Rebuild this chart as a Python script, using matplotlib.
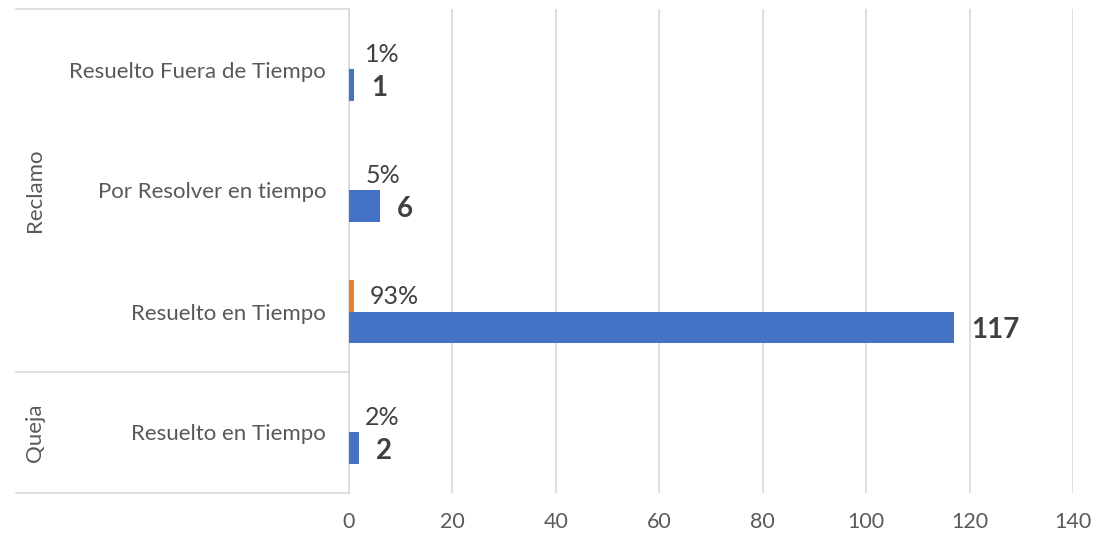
import numpy as np
import matplotlib.pyplot as plt
import matplotlib.transforms as mtransforms

plt.rcParams['font.family'] = ['Lato', 'DejaVu Sans']

# data (top to bottom as shown)
groups = ['Reclamo', 'Reclamo', 'Reclamo', 'Queja']
categories = ['Resuelto Fuera de Tiempo', 'Por Resolver en tiempo',
              'Resuelto en Tiempo', 'Resuelto en Tiempo']
counts = [1, 6, 117, 2]
shares = [0.01, 0.05, 0.93, 0.02]
x_ticks = [0, 20, 40, 60, 80, 100, 120, 140]

blue = '#4472C4'
orange = '#ED7D31'
grid_c = '#D9D9D9'
txt_c = '#595959'
lbl_c = '#404040'

fig = plt.figure(figsize=(11.07, 5.35), dpi=100)
ax = fig.add_axes([349 / 1107, 1 - 493 / 535, (1073 - 349) / 1107, (493 - 9) / 535])

n = len(categories)
y = np.arange(n)[::-1]
h = 0.26

ax.barh(y - h / 2, counts, height=h, color=blue, zorder=3)
ax.barh(y + h / 2, shares, height=h, color=orange, zorder=3)

for yi, c, s in zip(y, counts, shares):
    ax.annotate(f'{c}', (c, yi - h / 2), xytext=(17, -3), textcoords='offset pixels',
                ha='left', va='center', fontsize=20, fontweight='bold', color=lbl_c)
    ax.annotate(f'{s:.0%}', (s, yi + h / 2), xytext=(16, -1), textcoords='offset pixels',
                ha='left', va='center', fontsize=18, color=lbl_c)

ax.set_xlim(0, 140)
ax.set_ylim(-0.5, n - 0.5)
ax.set_xticks(x_ticks)
ax.tick_params(axis='x', length=0, pad=14, labelsize=15.5, labelcolor=txt_c)
ax.set_yticks(y)
ax.set_yticklabels(categories)
ax.tick_params(axis='y', length=0, pad=16.5, labelsize=16, labelcolor=txt_c)
ax.grid(axis='x', color=grid_c, linewidth=1.2, zorder=0)
for sp in ['top', 'right', 'bottom']:
    ax.spines[sp].set_visible(False)
ax.spines['left'].set_color(grid_c)
ax.spines['left'].set_linewidth(1.2)

# multi-level category separators and group labels
trans = mtransforms.blended_transform_factory(ax.transAxes, ax.transData)
x_left = (16 - 349) / (1073 - 349)
bounds = [n - 0.5]
start = 0
for i in range(1, n + 1):
    if i == n or groups[i] != groups[start]:
        top = y[start] + 0.5
        bot = y[i - 1] - 0.5
        bounds.append(bot)
        ax.text(x_left + (35 - 16) / (1073 - 349), (top + bot) / 2, groups[start],
                transform=trans, rotation=90, ha='center', va='center',
                fontsize=16, color=txt_c)
        start = i
for b in bounds:
    ax.plot([x_left, 0], [b, b], transform=trans, color=grid_c, linewidth=1.2,
            clip_on=False)

fig.savefig('out.png', dpi=100)
